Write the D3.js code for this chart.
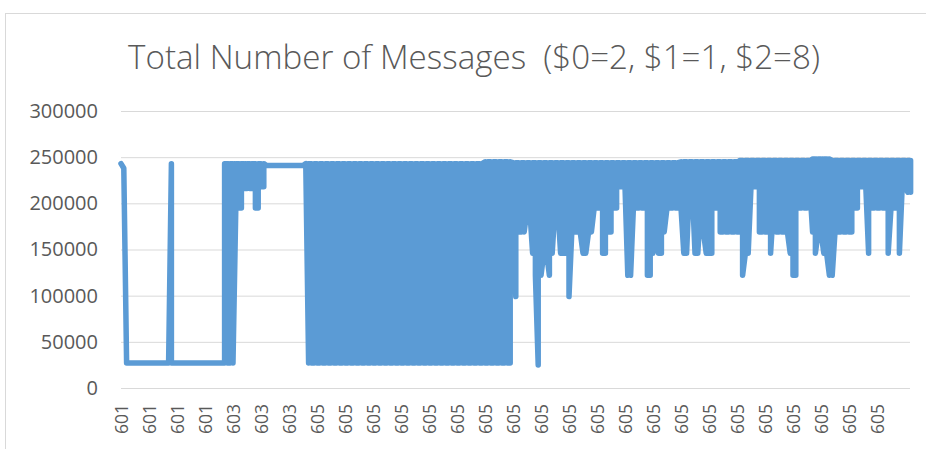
<html>
<head>
<script src="https://cdn.jsdelivr.net/npm/d3@7"></script>
<style>
  body { margin: 0; background: #fff; }
  svg text { font-family: "Open Sans", sans-serif; fill: #595959; }
</style>
</head>
<body>
<div id="chart"></div>
<script>
// the series is very dense: for each sample slot keep the highest and lowest
// message count. one row = one label bucket (10 slots)
var msgMax = [
  243000, 238000, 27000, 27000, 27000, 27000, 27000, 27000, 27000, 27000,
  27000, 27000, 27000, 27000, 27000, 27000, 27000, 27000, 243000, 27000,
  27000, 27000, 27000, 27000, 27000, 27000, 27000, 27000, 27000, 27000,
  27000, 27000, 27000, 27000, 27000, 27000, 27000, 243000, 243000, 243000,
  243000, 243000, 243000, 243000, 243000, 243000, 243000, 243000, 243000, 243000,
  243000, 243000, 241000, 241000, 241000, 241000, 241000, 241000, 241000, 241000,
  241000, 241000, 241000, 241000, 241000, 241000, 243000, 243000, 243000, 243000,
  243000, 243000, 243000, 243000, 243000, 243000, 243000, 243000, 243000, 243000,
  243000, 243000, 243000, 243000, 243000, 243000, 243000, 243000, 243000, 243000,
  243000, 243000, 243000, 243000, 243000, 243000, 243000, 243000, 243000, 243000,
  243000, 243000, 243000, 243000, 243000, 243000, 243000, 243000, 243000, 243000,
  243000, 243000, 243000, 243000, 243000, 243000, 243000, 243000, 243000, 243000,
  243000, 243000, 243000, 243000, 243000, 243000, 243000, 243000, 243000, 243000,
  245000, 245000, 245000, 245000, 245000, 245000, 245000, 245000, 245000, 245000,
  244000, 244000, 244000, 244000, 244000, 244000, 244000, 244000, 244000, 244000,
  244000, 244000, 244000, 244000, 244000, 244000, 244000, 244000, 244000, 244000,
  244000, 244000, 244000, 244000, 244000, 244000, 244000, 244000, 244000, 244000,
  244000, 244000, 244000, 244000, 244000, 244000, 244000, 244000, 244000, 244000,
  244000, 244000, 244000, 244000, 244000, 244000, 244000, 244000, 244000, 244000,
  244000, 244000, 244000, 244000, 244000, 244000, 244000, 244000, 244000, 244000,
  245000, 245000, 245000, 245000, 245000, 245000, 245000, 245000, 245000, 245000,
  245000, 245000, 245000, 245000, 245000, 245000, 245000, 245000, 245000, 245000,
  245000, 246500, 246500, 246500, 246500, 246500, 246500, 246500, 246500, 246500,
  246500, 246500, 246500, 246500, 246500, 246500, 246500, 246500, 246500, 246500,
  246500, 246500, 246500, 246500, 246500, 246500, 246500, 248000, 248000, 248000,
  248000, 248000, 248000, 248000, 246500, 246500, 246500, 246500, 246500, 246500,
  246500, 246500, 246500, 246500, 246500, 246500, 246500, 246500, 246500, 246500,
  246500, 246500, 246500, 246500, 246500, 246500, 246500, 246500, 246500, 246500,
  246500, 246500, 246500
]

var msgMin = [
  243000, 238000, 27000, 27000, 27000, 27000, 27000, 27000, 27000, 27000,
  27000, 27000, 27000, 27000, 27000, 27000, 27000, 27000, 27000, 27000,
  27000, 27000, 27000, 27000, 27000, 27000, 27000, 27000, 27000, 27000,
  27000, 27000, 27000, 27000, 27000, 27000, 27000, 27000, 27000, 27000,
  27000, 195000, 195000, 195000, 216000, 216000, 216000, 216000, 195000, 195000,
  218000, 218000, 241000, 241000, 241000, 241000, 241000, 241000, 241000, 241000,
  241000, 241000, 241000, 241000, 241000, 241000, 241000, 27000, 27000, 27000,
  27000, 27000, 27000, 27000, 27000, 27000, 27000, 27000, 27000, 27000,
  27000, 27000, 27000, 27000, 27000, 27000, 27000, 27000, 27000, 27000,
  27000, 27000, 27000, 27000, 27000, 27000, 27000, 27000, 27000, 27000,
  27000, 27000, 27000, 27000, 27000, 27000, 27000, 27000, 27000, 27000,
  27000, 27000, 27000, 27000, 27000, 27000, 27000, 27000, 27000, 27000,
  27000, 27000, 27000, 27000, 27000, 27000, 27000, 27000, 27000, 27000,
  27000, 27000, 27000, 27000, 27000, 27000, 27000, 27000, 27000, 27000,
  193000, 99000, 169000, 169000, 169000, 193000, 193000, 146000, 122000, 25000,
  122000, 146000, 146000, 122000, 146000, 195000, 195000, 146000, 146000, 146000,
  99000, 169000, 169000, 169000, 169000, 146000, 146000, 169000, 169000, 195000,
  195000, 195000, 146000, 146000, 169000, 169000, 195000, 195000, 218000, 218000,
  218000, 122000, 122000, 195000, 195000, 195000, 195000, 195000, 122000, 122000,
  146000, 169000, 146000, 146000, 169000, 195000, 195000, 195000, 195000, 195000,
  195000, 146000, 146000, 218000, 218000, 146000, 146000, 195000, 169000, 146000,
  146000, 146000, 195000, 195000, 169000, 169000, 169000, 169000, 169000, 169000,
  169000, 169000, 122000, 146000, 146000, 218000, 218000, 218000, 169000, 169000,
  169000, 169000, 146000, 195000, 169000, 169000, 169000, 169000, 169000, 146000,
  122000, 122000, 195000, 195000, 195000, 195000, 218000, 169000, 146000, 169000,
  169000, 146000, 146000, 122000, 122000, 169000, 169000, 169000, 169000, 169000,
  169000, 169000, 195000, 195000, 218000, 218000, 218000, 146000, 195000, 195000,
  195000, 195000, 195000, 195000, 146000, 195000, 195000, 195000, 146000, 218000,
  218000, 212000, 212000
]

var xLabels = ["601", "601", "601", "601", "603", "603", "603",
  "605", "605", "605", "605", "605", "605", "605", "605", "605", "605", "605",
  "605", "605", "605", "605", "605", "605", "605", "605", "605", "605"]
var labelEvery = 10

var yTicks = [0, 50000, 100000, 150000, 200000, 250000, 300000]

var title = "Total Number of Messages  ($0=2, $1=1, $2=8)"

var W = 926, H = 449
var plotLeft = 121, plotRight = 910, plotTop = 111, plotBottom = 388

var svg = d3.select('#chart').append('svg')
  .attr('width', W)
  .attr('height', H)

// outer chart border
svg.append('rect')
  .attr('x', 5.5).attr('y', 13.5)
  .attr('width', W).attr('height', H)
  .attr('fill', 'none')
  .attr('stroke', '#d9d9d9')

var x = d3.scaleLinear().domain([0, 282.5]).range([plotLeft, 912])
var y = d3.scaleLinear().domain([0, 300000]).range([plotBottom, plotTop])

// y axis + gridlines
var yAxis = svg.append('g')
  .attr('transform', 'translate(' + plotLeft + ',0)')
  .call(d3.axisLeft(y).tickValues(yTicks).tickSize(-(plotRight - plotLeft)).tickPadding(23).tickFormat(d3.format('d')))
yAxis.select('.domain').remove()
yAxis.selectAll('line').attr('stroke', '#d9d9d9')
yAxis.selectAll('text').style('font-size', '20px').style('fill', '#595959')

// x axis, rotated labels
var xAxis = svg.append('g')
  .attr('transform', 'translate(0,' + plotBottom + ')')
  .call(d3.axisBottom(x)
    .tickValues(xLabels.map(function(d, i){ return i * labelEvery }))
    .tickSize(0)
    .tickFormat(function(d){ return xLabels[d / labelEvery] }))
xAxis.select('.domain').remove()
xAxis.selectAll('text')
  .attr('transform', 'rotate(-90)')
  .attr('x', -16)
  .attr('y', 0)
  .attr('dy', '0.36em')
  .style('text-anchor', 'end')
  .style('font-size', '17.5px')
  .style('fill', '#595959')

// walk each slot top->bottom then bottom->top, like the raw line swinging up and down
var pts = []
msgMax.forEach(function(hi, i){
  var lo = msgMin[i]
  if (i % 2 == 0) { pts.push([i, hi]); pts.push([i, lo]) }
  else { pts.push([i, lo]); pts.push([i, hi]) }
})

var line = d3.line()
  .x(function(d){ return x(d[0]) })
  .y(function(d){ return y(d[1]) })

svg.append('path')
  .datum(pts)
  .attr('d', line)
  .attr('fill', 'none')
  .attr('stroke', '#5b9bd5')
  .attr('stroke-width', 5.5)
  .attr('stroke-linejoin', 'round')
  .attr('stroke-linecap', 'round')

// title, fitted to the width seen in the picture
var t = svg.append('text')
  .attr('x', 474)
  .attr('y', 69)
  .attr('text-anchor', 'middle')
  .style('white-space', 'pre')
  .style('font-size', '28px')
  .style('font-weight', 300)
  .text(title)
var len = t.node().getComputedTextLength()
t.style('font-size', (28 * 692 / len) + 'px')
</script>
</body>
</html>
